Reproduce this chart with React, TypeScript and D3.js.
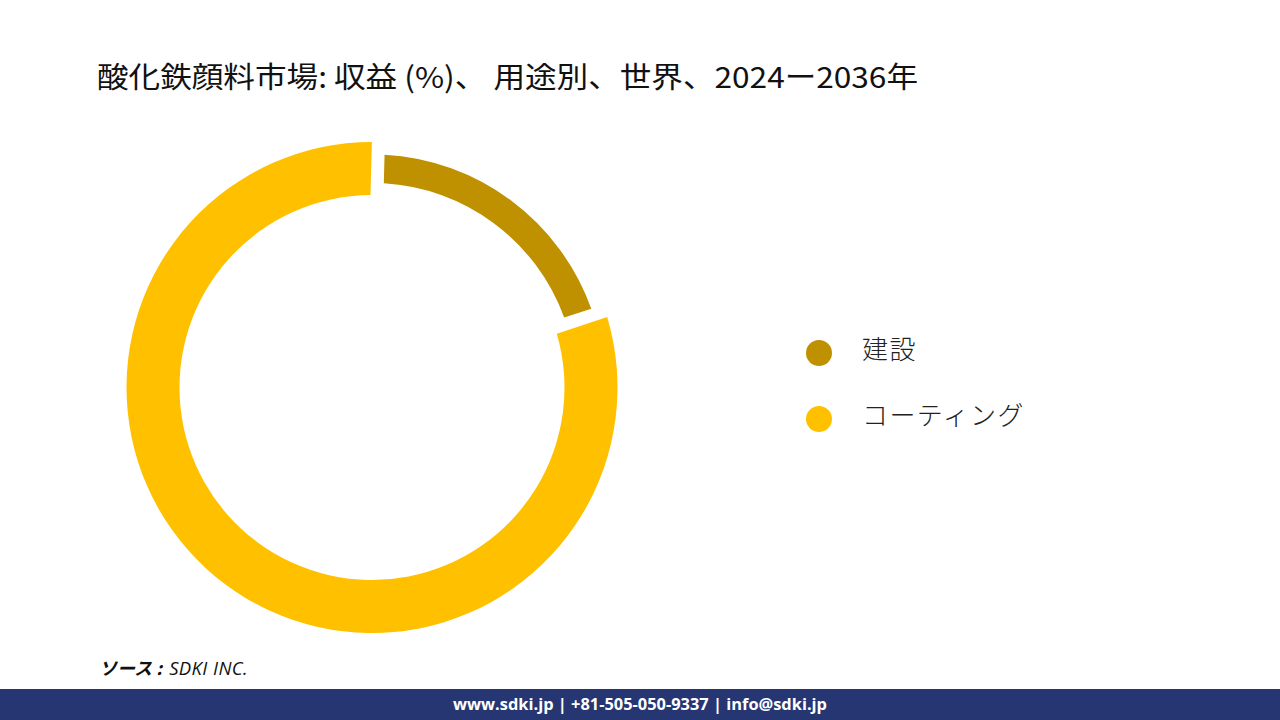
import React from "react";
import * as d3 from "d3";

const categories: string[] = ["建設", "コーティング"];
const shares: number[] = [19, 81];
const colors: string[] = ["#BF9000", "#FFC000"];
const titleText = "酸化鉄顔料市場: 収益 (%)、 用途別、世界、2024ー2036年";
const sourceLabel = "ソース : ";
const sourceName = "SDKI INC.";
const footerText = "www.sdki.jp | +81-505-050-9337 | info@sdki.jp";

const W = 1280;
const H = 720;
const cx = 372;
const cy = 387.5;

export default function App() {
  const pie = d3
    .pie<number>()
    .sort(null)
    .startAngle(0.026)
    .endAngle(0.026 + Math.PI * 2)
    .padAngle(13 / 240)
    .value((d) => d);
  const arcs = pie(shares);
  const radii = [
    { inner: 204.5, outer: 233 },
    { inner: 192.5, outer: 245.5 },
  ];

  const legendY = d3.scalePoint<string>().domain(categories).range([353, 419]);

  return (
    <svg
      width={W}
      height={H}
      style={{ position: "absolute", left: 0, top: 0, background: "#fff" }}
    >
      <rect x={0} y={0} width={W} height={H} fill="#fff" />
      <text
        x={97}
        y={88}
        fontFamily="'Noto Sans CJK JP', sans-serif"
        fontSize={29}
        fill="#111"
        textLength={821}
        lengthAdjust="spacingAndGlyphs"
      >
        {titleText}
      </text>
      <g transform={`translate(${cx},${cy})`}>
        {arcs.map((a, i) => {
          const gen = d3
            .arc<d3.PieArcDatum<number>>()
            .innerRadius(radii[i].inner)
            .outerRadius(radii[i].outer)
            .padRadius(240);
          return <path key={i} d={gen(a) || ""} fill={colors[i]} />;
        })}
      </g>
      {categories.map((c, i) => (
        <g key={c}>
          <circle cx={819} cy={legendY(c)} r={13} fill={colors[i]} />
          <text
            x={862}
            y={(legendY(c) as number) + 6}
            fontFamily="'Noto Sans CJK JP', sans-serif"
            fontWeight={300}
            fontSize={26}
            letterSpacing={1.4}
            fill="#222"
          >
            {c}
          </text>
        </g>
      ))}
      <text x={99} y={675} fontFamily="'Noto Sans CJK JP', sans-serif" fontSize={18} fill="#111">
        <tspan fontWeight={700} fontStyle="italic">{sourceLabel}</tspan>
        <tspan dx={3} fontStyle="italic" fontFamily="'Open Sans', sans-serif" fontSize={18.5} letterSpacing={0.4}>{sourceName}</tspan>
      </text>
      <rect x={0} y={689} width={W} height={31} fill="#263673" />
      <text
        x={640}
        y={710}
        textAnchor="middle"
        fontFamily="'Open Sans', sans-serif"
        fontWeight={700}
        fontSize={16.4}
        fill="#fff"
      >
        {footerText}
      </text>
    </svg>
  );
}
